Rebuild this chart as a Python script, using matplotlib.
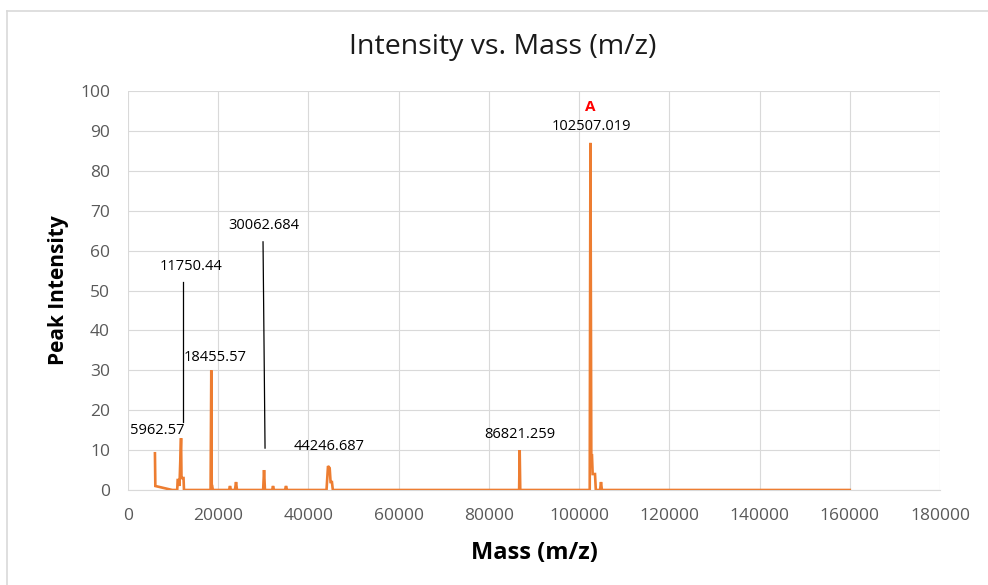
import matplotlib.pyplot as plt
from matplotlib.lines import Line2D

plt.rcParams['font.family'] = ['Open Sans', 'DejaVu Sans']

# spectrum trace (mass, intensity)
mass = [5962.57, 6050, 9800, 10900, 11000, 11300, 11400, 11750.44, 11850, 12000,
        12300, 12400, 18300, 18455.57, 18550, 18650, 18800, 22400, 22600, 22800,
        23700, 23940, 24150, 29950, 30150, 30350, 31950, 32140, 32350, 34800,
        35020, 35250, 44000, 44330, 44700, 44900, 45200, 45400, 86700, 86821.259,
        86950, 102350, 102507.019, 102700, 102850, 103000, 103520, 103700,
        104650, 104850, 105050, 160000]
intensity = [9.2, 1.0, 0, 0, 2.5, 2.5, 1.0, 13.0, 3.0, 3.0,
             3.0, 0, 0, 30.0, 1.0, 1.0, 0, 0, 1.0, 0,
             0, 2.0, 0, 0, 5.0, 0, 0, 1.0, 0, 0,
             1.0, 0, 0, 6.0, 5.5, 2.0, 2.0, 0, 0, 10.0,
             0, 0, 87.0, 8.7, 8.7, 4.0, 4.0, 0,
             0, 2.0, 0, 0]

# peak labels: text, label position, optional leader line (x0, y0, x1, y1)
label_text = ["5962.57", "11750.44", "18455.57", "30062.684", "44246.687",
              "86821.259", "102507.019"]
label_x = [6430, 13970, 19290, 30150, 44560, 86900, 102630]
label_y = [15.0, 56.1, 33.1, 66.2, 11.0, 14.0, 91.0]
leaders = [(12190, 52.1, 12190, 17.0), (29925, 62.2, 30370, 10.5)]

fig = plt.figure(figsize=(9.88, 5.85), dpi=100)
ax = fig.add_axes([0.1296, 0.1624, 0.8218, 0.682])

ax.plot(mass, intensity, color='#ED7D31', lw=1.9, solid_joinstyle='miter', zorder=3)

for t, x, y in zip(label_text, label_x, label_y):
    ax.text(x, y, t, ha='center', va='center', fontsize=10.5, color='#000000', zorder=4)
for x0, y0, x1, y1 in leaders:
    ax.plot([x0, x1], [y0, y1], color='#000000', lw=0.9, zorder=4)
ax.text(102400, 96.0, "A", ha='center', va='center', fontsize=11,
        fontweight='bold', color='#FF0000')

ax.set_xlim(0, 180000)
ax.set_ylim(0, 100)
ax.set_xticks(range(0, 180001, 20000))
ax.set_yticks(range(0, 101, 10))
ax.grid(True, color='#D9D9D9', lw=0.8)
ax.set_axisbelow(True)
for s in ['top', 'right', 'left']:
    ax.spines[s].set_visible(False)
ax.spines['bottom'].set_color('#D9D9D9')
ax.spines['bottom'].set_linewidth(0.8)
ax.tick_params(length=0, labelsize=12.5, labelcolor='#595959')
ax.tick_params(axis='x', pad=13)
ax.tick_params(axis='y', pad=13)

fig.text(503 / 988, 1 - 47 / 585, "Intensity vs. Mass (m/z)", fontsize=20.5,
         color='#1A1A1A', ha='center', va='center')
ax.set_xlabel("Mass (m/z)", fontsize=17, fontweight='bold', color='#000000', labelpad=12)
ax.set_ylabel("Peak Intensity", fontsize=15, fontweight='bold', color='#000000', labelpad=8)

# chart border
fig.add_artist(Line2D([0.007, 1.0], [0.981, 0.981], color='#D9D9D9', lw=1.2))
fig.add_artist(Line2D([0.007, 0.007], [0.0, 0.981], color='#D9D9D9', lw=1.2))

fig.savefig('out.png', dpi=100)
